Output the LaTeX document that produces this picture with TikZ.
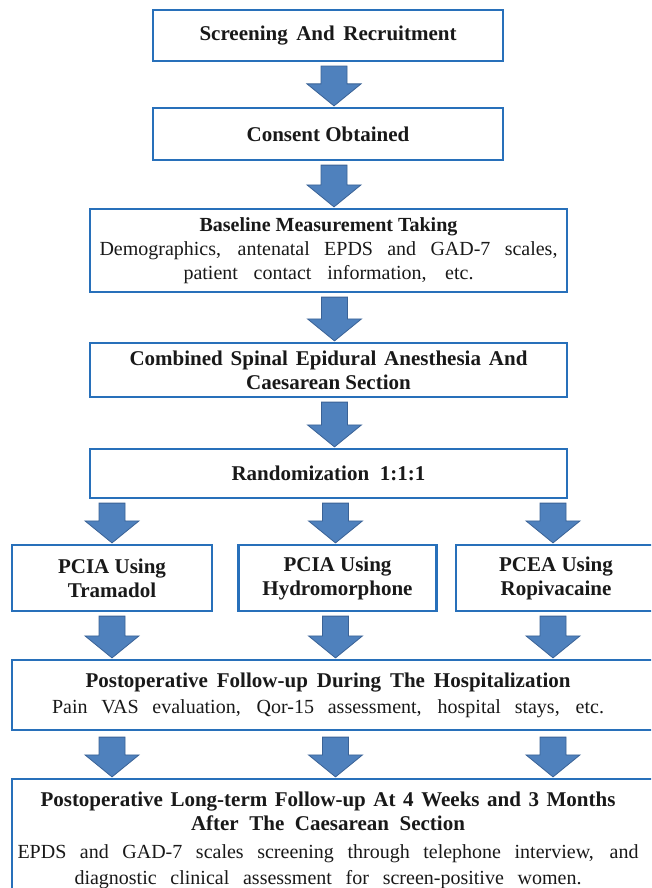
\documentclass[tikz,border=0pt]{standalone}
\usepackage{fontspec}
\setmainfont{Liberation Serif}
\usetikzlibrary{calc}
\definecolor{boxblue}{RGB}{40,112,186}
\definecolor{arrowfill}{RGB}{79,129,189}
\definecolor{arrowline}{RGB}{58,98,150}
\definecolor{txt}{RGB}{25,25,25}
\newcommand\jl[2]{\makebox[#1][s]{#2}}
\newcommand\bl[1]{{\fontsize{21}{24}\selectfont\bfseries #1}}
\newcommand\blkarrow[2]{%
  \draw[blockarrow] let \p1=(#1), \p2=(#2) in
    (\x1-13pt,\y1) -- (\x1+13pt,\y1) -- (\x1+13pt,\y2+22pt) -- (\x1+27pt,\y2+22pt)
    -- (\x1,\y2) -- (\x1-27pt,\y2+22pt) -- (\x1-13pt,\y2+22pt) -- cycle;}
\begin{document}
\begin{tikzpicture}[x=1pt,y=-1pt,
  box/.style={draw=boxblue, line width=2.2pt, fill=white, inner sep=0pt},
  boxtext/.style={inner sep=0pt, align=center, text=txt, font=\fontsize{20}{24}\selectfont},
  blockarrow/.style={draw=arrowline, fill=arrowfill, line width=0.8pt, line join=miter}]
\useasboundingbox (0,0) rectangle (651,888);
\fill[white] (0,0) rectangle (651,888);
\clip (0,0) rectangle (651,888);

% boxes
\node[box, minimum width=350pt, minimum height=51pt] (b1) at (328,35.5) {};
\node[boxtext] (t1) at (b1) {\bl{\jl{257pt}{Screening And Recruitment}}};

\node[box, minimum width=350pt, minimum height=52pt] (b2) at (328,134) {};
\node[boxtext] (t2) at (b2) {\bl{Consent Obtained}};

\node[box, minimum width=477pt, minimum height=83pt] (b3) at (328.5,250.5) {};
\node[boxtext] (t3) at (b3) {{\fontsize{20}{24}\selectfont\bfseries Baseline Measurement Taking}\\
  \jl{458pt}{Demographics, antenatal EPDS and GAD-7 scales,}\\
  \jl{290pt}{patient contact information, etc.}};

\node[box, minimum width=477pt, minimum height=54pt] (b4) at (328.5,370) {};
\node[boxtext] (t4) at (b4) {\bl{\jl{398pt}{Combined Spinal Epidural Anesthesia And}}\\
  \bl{Caesarean Section}};

\node[box, minimum width=477pt, minimum height=49pt] (b5) at (328.5,473.5) {};
\node[boxtext] (t5) at (b5) {\bl{\jl{194pt}{Randomization 1:1:1}}};

\node[box, minimum width=200pt, minimum height=66pt] (b6a) at (112,578) {};
\node[boxtext] (t6a) at (b6a) {\bl{PCIA Using}\\ \bl{Tramadol}};

\node[box, minimum width=198pt, minimum height=66pt] (b6b) at (337.5,578) {};
\node[boxtext] (t6b) at (b6b) {\bl{PCIA Using}\\ \bl{Hydromorphone}};

\node[box, minimum width=200pt, minimum height=66pt] (b6c) at (556,578) {};
\node[boxtext] (t6c) at (b6c) {\bl{PCEA Using}\\ \bl{Ropivacaine}};

\node[box, minimum width=652pt, minimum height=70pt] (b7) at (338,695) {};
\node[boxtext] (t7) at (328,695) {\bl{\jl{485pt}{Postoperative Follow-up During The Hospitalization}}\\[2pt]
  \jl{552pt}{Pain VAS evaluation, Qor-15 assessment, hospital stays, etc.}};

\node[box, minimum width=652pt, minimum height=120pt] (b8) at (338,839) {};
\node[boxtext] (t8) at (328,840) {\bl{\jl{575pt}{Postoperative Long-term Follow-up At 4 Weeks and 3 Months}}\\
  \bl{\jl{274pt}{After The Caesarean Section}}\\[4pt]
  \jl{621pt}{EPDS and GAD-7 scales screening through telephone interview, and}\\[2pt]
  \jl{507pt}{diagnostic clinical assessment for screen-positive women.}};

% block arrows
\blkarrow{$(b1.south)+(6,4)$}{$(b2.north)+(6,-1)$}
\blkarrow{$(b2.south)+(6,4)$}{$(b3.north)+(6,-1)$}
\blkarrow{$(b3.south)+(6,4)$}{$(b4.north)+(6,-1)$}
\blkarrow{$(b4.south)+(6,4)$}{$(b5.north)+(6,-1)$}

\blkarrow{$(b6a.north |- b5.south)+(0,4)$}{$(b6a.north)+(0,-1)$}
\blkarrow{$(b6b.north |- b5.south)+(-2,4)$}{$(b6b.north)+(-2,-1)$}
\blkarrow{$(b6c.north |- b5.south)+(-3,4)$}{$(b6c.north)+(-3,-1)$}

\blkarrow{$(b6a.south)+(0,4)$}{$(b6a.south |- b7.north)+(0,-1)$}
\blkarrow{$(b6b.south)+(-2,4)$}{$(b6b.south |- b7.north)+(-2,-1)$}
\blkarrow{$(b6c.south)+(-3,4)$}{$(b6c.south |- b7.north)+(-3,-1)$}

\blkarrow{$(b6a.south |- b7.south)+(0,6)$}{$(b6a.south |- b8.north)+(0,-1)$}
\blkarrow{$(b6b.south |- b7.south)+(-2,6)$}{$(b6b.south |- b8.north)+(-2,-1)$}
\blkarrow{$(b6c.south |- b7.south)+(-3,6)$}{$(b6c.south |- b8.north)+(-3,-1)$}
\end{tikzpicture}
\end{document}
